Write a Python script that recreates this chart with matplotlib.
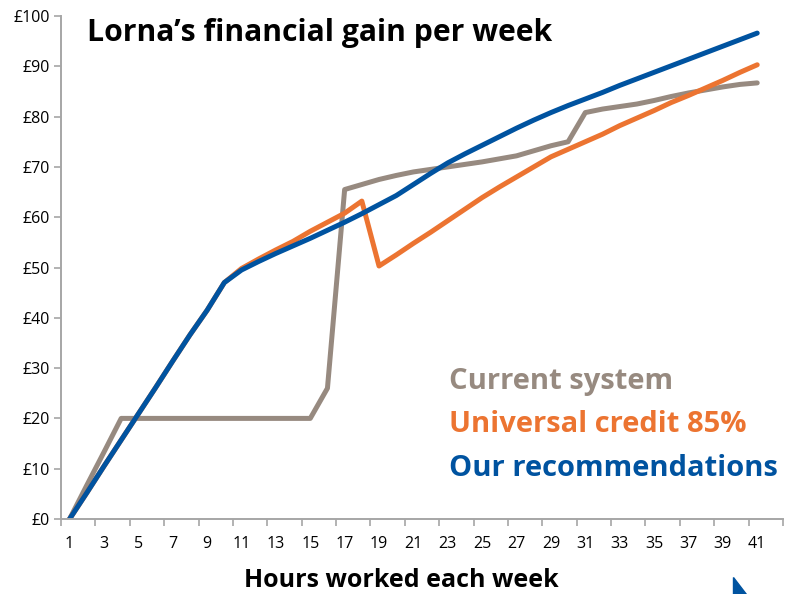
import matplotlib
matplotlib.use("Agg")
import matplotlib.pyplot as plt
from matplotlib.patches import Polygon

# Hours worked each week (category axis runs 1-42, data to 41)
hours = list(range(1, 42))

# Weekly gain under each scheme
current_system = [0, 6.7, 13.3, 20, 20, 20, 20, 20, 20, 20,
                  20, 20, 20, 20, 20, 26, 65.5, 66.5, 67.5, 68.3,
                  69, 69.5, 70, 70.5, 71, 71.6, 72.2, 73.2, 74.2, 75,
                  80.8, 81.5, 82, 82.5, 83.2, 84, 84.7, 85.3, 85.9, 86.4,
                  86.7]
universal_credit = [0, 5.2, 10.5, 15.7, 20.9, 26.1, 31.4, 36.6, 41.5, 47,
                    49.8, 51.7, 53.5, 55.2, 57.2, 59, 60.8, 63.2, 50.3, 52.5,
                    54.8, 57, 59.3, 61.6, 63.9, 66, 68, 70, 72, 73.5,
                    75, 76.5, 78.2, 79.7, 81.2, 82.8, 84.2, 85.7, 87.2, 88.8,
                    90.3]
recommendations = [0, 5.2, 10.5, 15.7, 20.9, 26.1, 31.4, 36.6, 41.5, 47,
                   49.5, 51.2, 52.8, 54.3, 55.8, 57.4, 59, 60.7, 62.5, 64.3,
                   66.5, 68.7, 70.8, 72.6, 74.3, 76, 77.7, 79.3, 80.8, 82.2,
                   83.5, 84.8, 86.2, 87.5, 88.8, 90.1, 91.4, 92.7, 94, 95.3,
                   96.6]

series_names = ["Current system", "Universal credit 85%", "Our recommendations"]
series_colors = ["#978a80", "#ec7431", "#0053a0"]

x_labels = [str(h) for h in range(1, 42, 2)]
y_ticks = list(range(0, 101, 10))

plt.rcParams["font.family"] = ["Open Sans", "DejaVu Sans"]

fig = plt.figure(figsize=(7.95, 5.94), dpi=100)
ax = fig.add_axes([61 / 795, 75 / 594, 722 / 795, 503 / 594])

for vals, col in zip([current_system, universal_credit, recommendations], series_colors):
    ax.plot(hours, vals, color=col, lw=3.6, solid_capstyle="round", solid_joinstyle="round")

ax.set_xlim(0.5, 42.5)
ax.set_ylim(0, 100)

# labels on odd hours, tick marks on category boundaries
ax.set_xticks(range(1, 42, 2))
ax.set_xticklabels(x_labels)
ax.set_xticks([b + 0.5 for b in range(0, 43, 2)], minor=True)
ax.tick_params(axis="x", which="major", length=0, pad=12, labelsize=11.5)
ax.tick_params(axis="x", which="minor", length=5, width=1.2, color="#a6a6a6", direction="out")

ax.set_yticks(y_ticks)
ax.set_yticklabels(["£%d" % v for v in y_ticks])
ax.tick_params(axis="y", length=5, width=1.2, color="#a6a6a6", labelsize=11.5, pad=3)

for side in ["top", "right"]:
    ax.spines[side].set_visible(False)
for side in ["left", "bottom"]:
    ax.spines[side].set_color("#a6a6a6")
    ax.spines[side].set_linewidth(1.4)
ax.spines["left"].set_bounds(0, 100)

ax.set_xlabel("Hours worked each week", fontsize=18, fontweight="bold", labelpad=12)
ax.xaxis.label.set_x(0.471)

fig.text(87 / 795, 1 - 33 / 594, "Lorna\u2019s financial gain per week",
         fontsize=21.7, fontweight="bold", va="center", ha="left")

for i, (name, col) in enumerate(zip(series_names, series_colors)):
    fig.text(449 / 795, 1 - (381 + 43.5 * i) / 594, name, color=col,
             fontsize=21, fontweight="bold", va="center", ha="left")

# small blue corner triangle at the bottom
fig.patches.append(Polygon([(733 / 795, 17 / 594), (733 / 795, 0), (746 / 795, 0)],
                           closed=True, transform=fig.transFigure, color="#0053a0"))

fig.savefig("out.png", dpi=100)
